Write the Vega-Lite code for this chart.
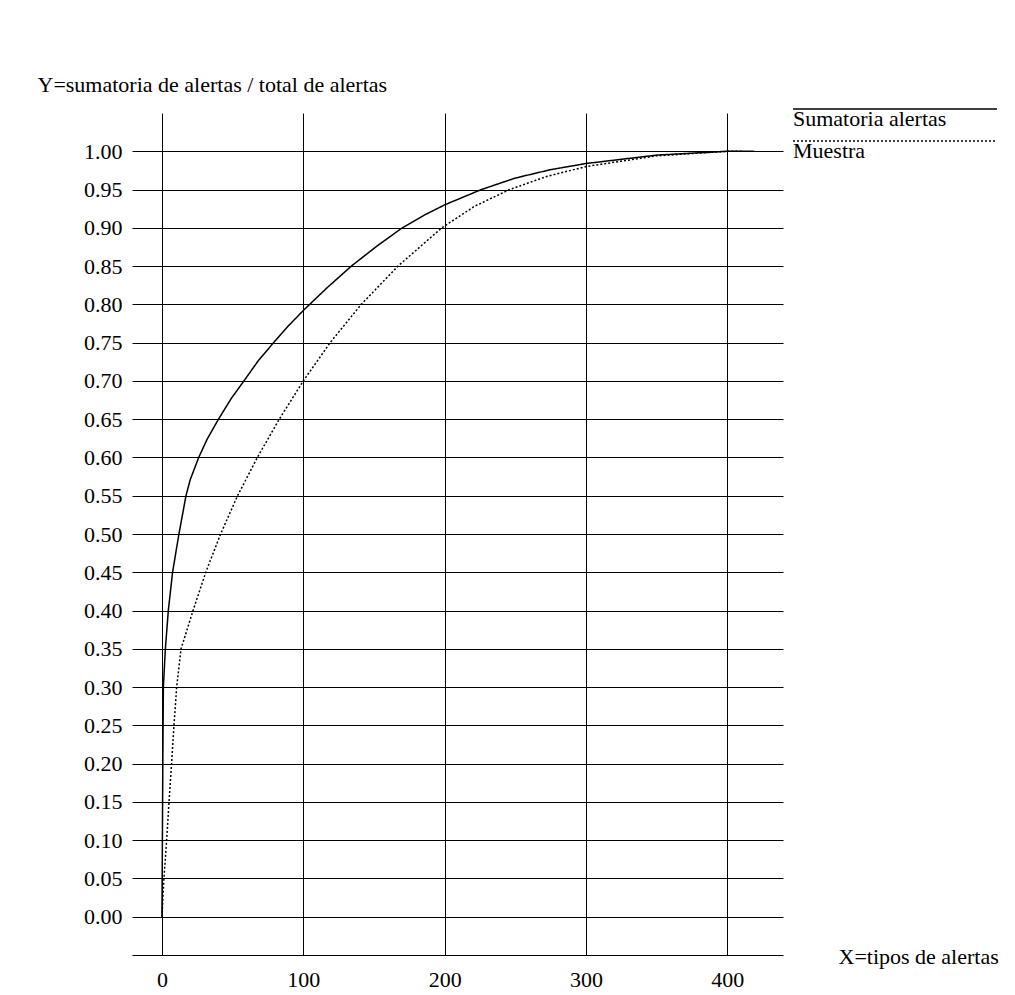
{
  "$schema": "https://vega.github.io/schema/vega-lite/v6.json",
  "autosize": {"type": "none"},
  "padding": {"left": 132, "top": 113, "right": 232, "bottom": 40},
  "width": 651,
  "height": 842,
  "background": "white",
  "config": {
    "view": {"stroke": null},
    "font": "Liberation Serif",
    "style": {
      "guide-label": {"font": "Liberation Serif", "fontSize": 22, "fill": "black"},
      "guide-title": {"font": "Liberation Serif", "fontSize": 22, "fill": "black", "fontWeight": "normal"}
    },
    "axis": {
      "labelFont": "Liberation Serif",
      "titleFont": "Liberation Serif",
      "labelFontSize": 22,
      "titleFontSize": 22,
      "titleFontWeight": "normal",
      "labelColor": "black",
      "titleColor": "black",
      "gridColor": "black",
      "gridOpacity": 1,
      "gridWidth": 1,
      "ticks": false,
      "domainColor": "black",
      "domainWidth": 1
    },
    "legend": {
      "labelFont": "Liberation Serif",
      "labelFontSize": 22,
      "labelColor": "black"
    }
  },
  "data": {
    "values": [
      {"serie": "Sumatoria alertas", "x": 0, "y": 0},
      {"serie": "Sumatoria alertas", "x": 0.3, "y": 0.1},
      {"serie": "Sumatoria alertas", "x": 0.6, "y": 0.2},
      {"serie": "Sumatoria alertas", "x": 1, "y": 0.3},
      {"serie": "Sumatoria alertas", "x": 2.4, "y": 0.35},
      {"serie": "Sumatoria alertas", "x": 4.5, "y": 0.4},
      {"serie": "Sumatoria alertas", "x": 7.5, "y": 0.45},
      {"serie": "Sumatoria alertas", "x": 12, "y": 0.5},
      {"serie": "Sumatoria alertas", "x": 17, "y": 0.55},
      {"serie": "Sumatoria alertas", "x": 20, "y": 0.571},
      {"serie": "Sumatoria alertas", "x": 26, "y": 0.6},
      {"serie": "Sumatoria alertas", "x": 32, "y": 0.624},
      {"serie": "Sumatoria alertas", "x": 40, "y": 0.65},
      {"serie": "Sumatoria alertas", "x": 49, "y": 0.677},
      {"serie": "Sumatoria alertas", "x": 58, "y": 0.7},
      {"serie": "Sumatoria alertas", "x": 68, "y": 0.726},
      {"serie": "Sumatoria alertas", "x": 79, "y": 0.75},
      {"serie": "Sumatoria alertas", "x": 89, "y": 0.771},
      {"serie": "Sumatoria alertas", "x": 100, "y": 0.792},
      {"serie": "Sumatoria alertas", "x": 117, "y": 0.822},
      {"serie": "Sumatoria alertas", "x": 134, "y": 0.85},
      {"serie": "Sumatoria alertas", "x": 152, "y": 0.876},
      {"serie": "Sumatoria alertas", "x": 170, "y": 0.9},
      {"serie": "Sumatoria alertas", "x": 185, "y": 0.916},
      {"serie": "Sumatoria alertas", "x": 200, "y": 0.93},
      {"serie": "Sumatoria alertas", "x": 226, "y": 0.95},
      {"serie": "Sumatoria alertas", "x": 250, "y": 0.965},
      {"serie": "Sumatoria alertas", "x": 275, "y": 0.976},
      {"serie": "Sumatoria alertas", "x": 300, "y": 0.984},
      {"serie": "Sumatoria alertas", "x": 350, "y": 0.995},
      {"serie": "Sumatoria alertas", "x": 400, "y": 1.0},
      {"serie": "Sumatoria alertas", "x": 419, "y": 1.0},
      {"serie": "Muestra", "x": 0, "y": 0},
      {"serie": "Muestra", "x": 1.4, "y": 0.05},
      {"serie": "Muestra", "x": 3.3, "y": 0.1},
      {"serie": "Muestra", "x": 5, "y": 0.15},
      {"serie": "Muestra", "x": 6.8, "y": 0.2},
      {"serie": "Muestra", "x": 8.5, "y": 0.25},
      {"serie": "Muestra", "x": 10.4, "y": 0.3},
      {"serie": "Muestra", "x": 13.5, "y": 0.35},
      {"serie": "Muestra", "x": 22, "y": 0.4},
      {"serie": "Muestra", "x": 31, "y": 0.45},
      {"serie": "Muestra", "x": 41.5, "y": 0.5},
      {"serie": "Muestra", "x": 53.5, "y": 0.55},
      {"serie": "Muestra", "x": 67.5, "y": 0.6},
      {"serie": "Muestra", "x": 83, "y": 0.65},
      {"serie": "Muestra", "x": 100, "y": 0.7},
      {"serie": "Muestra", "x": 119, "y": 0.75},
      {"serie": "Muestra", "x": 141, "y": 0.8},
      {"serie": "Muestra", "x": 167, "y": 0.85},
      {"serie": "Muestra", "x": 198, "y": 0.9},
      {"serie": "Muestra", "x": 221, "y": 0.928},
      {"serie": "Muestra", "x": 246, "y": 0.95},
      {"serie": "Muestra", "x": 272, "y": 0.967},
      {"serie": "Muestra", "x": 300, "y": 0.98},
      {"serie": "Muestra", "x": 350, "y": 0.994},
      {"serie": "Muestra", "x": 400, "y": 1.0},
      {"serie": "Muestra", "x": 410, "y": 1.0}
    ]
  },
  "mark": {"type": "line", "color": "black", "strokeWidth": 1.5, "clip": false},
  "encoding": {
    "x": {
      "field": "x",
      "type": "quantitative",
      "scale": {"domain": [-21.2, 439.4], "nice": false, "zero": false},
      "axis": {
        "values": [0, 100, 200, 300, 400],
        "format": "d",
        "grid": true,
        "domain": true,
        "labelFont": "Liberation Serif",
        "titleFont": "Liberation Serif",
        "labelPadding": 14,
        "title": "X=tipos de alertas",
        "titleAngle": 0,
        "titleAlign": "left",
        "titleBaseline": "alphabetic",
        "titleAnchor": null,
        "titleX": 706,
        "titleY": 8
      }
    },
    "y": {
      "field": "y",
      "type": "quantitative",
      "scale": {"domain": [-0.05, 1.05], "nice": false, "zero": false},
      "axis": {
        "values": [0, 0.05, 0.1, 0.15, 0.2, 0.25, 0.3, 0.35, 0.4, 0.45, 0.5, 0.55, 0.6, 0.65, 0.7, 0.75, 0.8, 0.85, 0.9, 0.95, 1.0],
        "format": ".2f",
        "grid": true,
        "domain": false,
        "labelFont": "Liberation Serif",
        "titleFont": "Liberation Serif",
        "labelPadding": 10,
        "title": "Y=sumatoria de alertas / total de alertas",
        "titleAngle": 0,
        "titleAlign": "left",
        "titleBaseline": "alphabetic",
        "titleAnchor": null,
        "titleX": -95,
        "titleY": -22
      }
    },
    "strokeDash": {
      "field": "serie",
      "type": "nominal",
      "scale": {"domain": ["Sumatoria alertas", "Muestra"], "range": [[1, 0], [2, 2]]},
      "legend": {
        "title": null,
        "orient": "none",
        "legendX": 752,
        "legendY": -15,
        "padding": 0,
        "symbolType": "M-102,0H102",
        "symbolSize": 4,
        "symbolStrokeWidth": 1.5,
        "symbolStrokeColor": "black",
        "labelFont": "Liberation Serif",
        "labelOffset": -113,
        "labelBaseline": "top",
        "rowPadding": -1
      }
    }
  }
}
